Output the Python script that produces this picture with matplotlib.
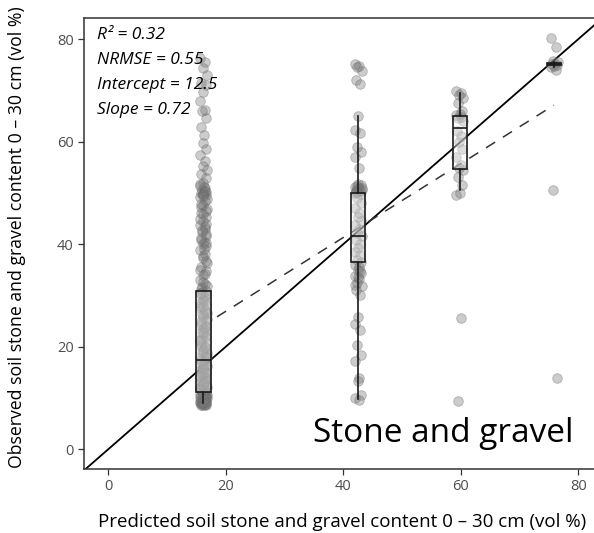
import numpy as np
import matplotlib
matplotlib.use("Agg")
import matplotlib.pyplot as plt

plt.rcParams["font.family"] = ["Open Sans", "DejaVu Sans"]

# predicted class values (x) for the four groups
pred_classes = [16.2, 42.5, 59.8, 75.9]

# observed values per predicted class
obs_g1 = [
    76.2, 75.5, 74.3, 73.0, 71.5, 71.0, 69.6, 68.0, 66.1, 66.0, 64.5, 62.8,
    61.2, 59.8, 58.6, 57.4, 56.2, 55.3, 54.5, 53.6, 52.8, 52.0, 51.4, 50.9,
    50.5, 50.2, 50.0, 50.0, 49.8, 49.5, 49.1, 48.4, 47.6, 46.9, 46.1, 45.3,
    44.5, 43.8, 43.0, 42.3, 41.5, 40.8, 40.4, 40.0, 39.6, 38.8, 38.0, 37.2,
    36.3, 35.5, 34.7, 33.9, 33.1, 32.3, 31.6, 30.9, 30.3, 29.6, 28.9, 28.2,
    27.5, 26.8, 26.1, 25.4, 24.7, 24.0, 23.4, 22.7, 22.1, 21.5, 20.9, 20.2,
    19.6, 19.0, 18.4, 17.8, 17.3, 16.8, 16.2, 15.7, 15.1, 14.6, 14.1, 13.6,
    13.1, 12.7, 12.3, 11.9, 11.5, 11.1, 10.8, 10.5, 10.2, 9.9, 9.6, 9.4,
    9.2, 9.0, 8.9, 8.7, 8.6, 9.1, 9.8, 10.0, 10.3, 12.0, 14.0, 16.0,
    18.0, 20.5, 23.0, 25.8, 27.9, 29.8, 30.6, 44.0, 47.2, 51.2, 49.7, 40.2,
    51.8, 50.4, 49.3, 48.8, 47.9, 46.5, 45.8, 44.9, 43.4, 42.7, 41.9, 41.1,
    39.1, 37.6, 36.7, 35.0, 34.2, 32.7, 31.9, 31.2, 30.1, 29.2, 28.5, 27.1,
    26.4, 25.1, 24.3, 23.7, 22.4, 21.8, 21.1, 19.9, 19.3, 18.7, 17.5, 16.5,
    15.9, 15.3, 14.8, 14.3, 13.8, 13.3, 12.9, 12.5, 12.1, 11.7, 11.3, 10.9,
    10.6, 10.4, 10.1, 9.7, 9.5, 9.3, 9.0, 8.8, 8.7, 8.6, 9.0, 9.2,
    30.4, 29.0, 27.7, 26.5, 25.0, 23.9, 22.9, 21.3, 20.0, 18.9, 17.9, 17.0,
    16.4, 15.5, 14.9, 14.2, 13.4, 12.8, 12.2, 11.6, 11.0, 10.7, 10.2, 9.8,
]
obs_g2 = [
    75.2, 74.8, 74.5, 73.8, 72.0, 71.3, 64.9, 62.2, 61.6, 58.9, 58.0, 57.0,
    54.8, 51.8, 51.5, 51.2, 51.0, 50.8, 50.6, 50.4, 50.3, 50.1, 50.0, 49.8,
    49.0, 48.0, 47.0, 46.0, 45.2, 44.5, 43.8, 43.0, 42.2, 41.5, 40.8, 40.0,
    39.2, 38.5, 37.8, 37.0, 36.5, 36.0, 35.5, 35.0, 34.4, 33.8, 33.2, 32.5,
    31.8, 31.0, 30.0, 25.8, 24.5, 23.2, 20.3, 18.3, 17.3, 13.8, 13.4, 10.5,
    9.9, 9.6, 51.4, 50.9, 50.2, 34.8, 33.5, 32.0,
]
obs_g3 = [
    69.8, 69.4, 69.0, 68.5, 67.5, 66.0, 65.4, 65.1, 64.8, 64.5, 64.0, 62.0,
    61.0, 60.0, 58.5, 57.0, 55.5, 54.8, 54.5, 53.0, 51.5, 50.0, 49.5, 25.5,
    9.5,
]
obs_g4 = [80.2, 78.4, 75.8, 75.5, 75.2, 75.0, 74.8, 74.5, 74.0, 50.5, 13.8]

# box statistics per group
box_q1 = [11.2, 36.6, 54.7, 74.9]
box_med = [17.5, 41.6, 62.7, 75.2]
box_q3 = [30.9, 50.0, 65.0, 75.4]
box_lo = [9.0, 9.8, 50.5, 74.6]
box_hi = [30.9, 64.9, 69.5, 75.6]

# fit statistics
r2 = 0.32
nrmse = 0.55
intercept = 12.5
slope = 0.72

fig = plt.figure(figsize=(5.94, 5.33), dpi=100)
ax = fig.add_axes([0.1419, 0.1201, 0.8581, 0.8452])

# small fixed horizontal spread so overlapping points stay visible
spread = np.array([-0.55, 0.2, -0.15, 0.6, -0.35, 0.4, 0.0, -0.6, 0.3,
                   -0.25, 0.5, -0.45, 0.15, -0.05, 0.45])

for xc, obs in zip(pred_classes, [obs_g1, obs_g2, obs_g3, obs_g4]):
    xs = xc + np.resize(spread, len(obs))
    ax.scatter(xs, obs, s=48, facecolor="#7a7a7a", edgecolor="#5f5f5f",
               linewidth=0.6, alpha=0.38, zorder=2)

# 1:1 line
lims = np.array([-10, 100])
ax.plot(lims, lims, color="black", lw=1.3, zorder=1)

# fitted regression line
xfit = np.array([18.5, 75.8])
ax.plot(xfit, intercept + slope * xfit, color="#333333", lw=1.1,
        dashes=(7, 6), zorder=1)

stats = []
for i in range(len(pred_classes)):
    stats.append(dict(q1=box_q1[i], med=box_med[i], q3=box_q3[i],
                      whislo=box_lo[i], whishi=box_hi[i], fliers=[]))
ax.bxp(stats, positions=pred_classes, widths=2.4, patch_artist=True,
       showcaps=False, manage_ticks=False,
       boxprops=dict(facecolor=(1, 1, 1, 0.35), edgecolor="#1a1a1a", lw=1.2),
       medianprops=dict(color="#1a1a1a", lw=1.2),
       whiskerprops=dict(color="#1a1a1a", lw=1.2), zorder=3)

ax.set_xlim(-4.08, 82.65)
ax.set_ylim(-3.85, 84.0)
ax.set_xticks([0, 20, 40, 60, 80])
ax.set_yticks([0, 20, 40, 60, 80])

for side in ["left", "bottom", "top"]:
    ax.spines[side].set_color("#333333")
    ax.spines[side].set_linewidth(1.1)
ax.spines["right"].set_visible(False)
ax.tick_params(length=4, color="#333333", labelcolor="#4d4d4d",
               labelsize=10.5, width=0.9)

ax.set_xlabel("Predicted soil stone and gravel content 0 \u2013 30 cm (vol %)",
              fontsize=13.5, va="center")
ax.set_ylabel("Observed soil stone and gravel content 0 \u2013 30 cm (vol %)",
              fontsize=12.7, va="center")
ax.xaxis.set_label_coords(0.5066, -0.1176)
ax.yaxis.set_label_coords(-0.132, 0.514)

lines = [f"R\u00b2 = {r2:.2f}", f"NRMSE = {nrmse:.2f}",
         f"Intercept = {intercept}", f"Slope = {slope:.2f}"]
for i, t in enumerate(lines):
    ax.text(0.025, 0.963 - i * 0.0555, t, transform=ax.transAxes,
            style="italic", fontsize=12.5, va="center", ha="left", zorder=5)

ax.text(79.1, 3.1, "Stone and gravel", fontsize=24, ha="right", va="center")

fig.savefig("out.png", dpi=100)
